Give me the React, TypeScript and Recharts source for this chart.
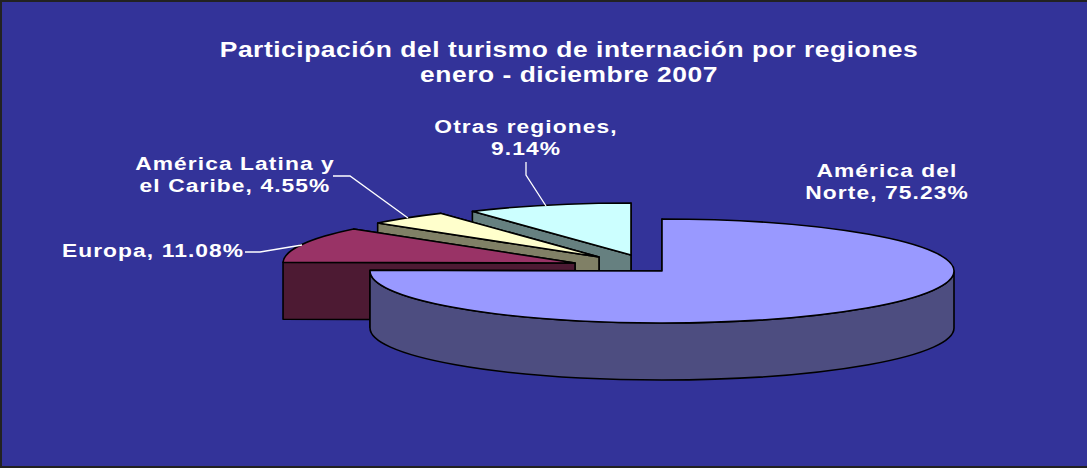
import { PieChart, Pie } from "recharts";

// drawn back to front, so América del Norte comes last and sits on top
const regions = ["Otras regiones", "América Latina y el Caribe", "Europa", "América del Norte"];
const shares = [9.14, 4.55, 11.08, 75.23];
const labelRows = [
  ["Otras regiones,", "9.14%"],
  ["América Latina y", "el Caribe, 4.55%"],
  ["Europa, 11.08%"],
  ["América del", "Norte, 75.23%"],
];
const titleRows = ["Participación del turismo de internación por regiones", "enero - diciembre 2007"];

const topColors = ["#CCFFFF", "#FFFFCC", "#993366", "#9999FF"];
const sideColors = ["#668080", "#808066", "#4D1A33", "#4D4D80"];

const data = regions.map((name, i) => ({ name, value: shares[i], fill: topColors[i] }));

const WIDTH = 1087;
const HEIGHT = 468;
const RX = 292;
const RY = 52;
const DEPTH = 57;
const FONT = "'Liberation Sans', Arial, sans-serif";

// how far each slice is pulled out of the pie
const explode = [
  [-31, -16],
  [-63, -14],
  [-87, -8],
  [0, 0],
];
const labelPos = [
  [526, 133],
  [235, 170],
  [153, 257],
  [887, 177],
];
const leaders = [
  "526,162 526,175 546,206",
  "333,176 350,176 408,218",
  "245,252 260,252 302,245",
  "",
];

const SliceShape = (props: any) => {
  const { cx, cy, startAngle, endAngle, index } = props;
  const ox = cx + explode[index][0];
  const oy = cy + explode[index][1];
  const pt = (deg: number, drop = 0) => {
    const a = (deg * Math.PI) / 180;
    return [ox + RX * Math.cos(a), oy - RY * Math.sin(a) + drop];
  };
  const lo = Math.min(startAngle, endAngle);
  const hi = Math.max(startAngle, endAngle);
  const arc = (from: number, to: number, drop = 0) => {
    const [x, y] = pt(to, drop);
    const large = Math.abs(to - from) > 180 ? 1 : 0;
    return `A${RX} ${RY} 0 ${large} ${to > from ? 0 : 1} ${x} ${y}`;
  };
  const face = (deg: number) => {
    const [x, y] = pt(deg);
    return `M${ox} ${oy}L${x} ${y}L${x} ${y + DEPTH}L${ox} ${oy + DEPTH}Z`;
  };
  // the outer wall only shows on the front half of the ellipse
  const wallFrom = Math.max(lo, 180);
  const wallTo = Math.min(hi, 360);
  const [sx, sy] = pt(lo);
  const [wx, wy] = pt(wallFrom);
  const [bx, by] = pt(wallTo, DEPTH);
  const line = { stroke: "#000", strokeWidth: 1.6, strokeLinejoin: "round" as const };
  return (
    <g>
      <path d={face(lo)} fill={sideColors[index]} {...line} />
      <path d={face(hi)} fill={sideColors[index]} {...line} />
      {wallTo > wallFrom && (
        <path
          d={`M${wx} ${wy}${arc(wallFrom, wallTo)}L${bx} ${by}${arc(wallTo, wallFrom, DEPTH)}Z`}
          fill={sideColors[index]}
          {...line}
        />
      )}
      <path d={`M${ox} ${oy}L${sx} ${sy}${arc(lo, hi)}Z`} fill={topColors[index]} {...line} />
    </g>
  );
};

// the original text is stretched sideways, hence the scale
const renderLabel = ({ index }: any) => (
  <text
    transform={`translate(${labelPos[index][0]} 0) scale(1.2 1)`}
    textAnchor="middle"
    fill="#fff"
    fontFamily={FONT}
    fontWeight="bold"
    fontSize={19}
    letterSpacing={0.9}
  >
    {labelRows[index].map((row, i) => (
      <tspan key={i} x={0} y={labelPos[index][1] + i * 22}>
        {row}
      </tspan>
    ))}
  </text>
);

const renderLeader = ({ index }: any) => <polyline points={leaders[index]} fill="none" stroke="#fff" strokeWidth={1.3} />;

export default function App() {
  return (
    <div
      style={{
        position: "absolute",
        left: 0,
        top: 0,
        width: WIDTH,
        height: HEIGHT,
        background: "#333399",
        boxShadow: "inset 2px 2px 0 #222, inset 0 -2px 0 #222",
      }}
    >
      <PieChart width={WIDTH} height={HEIGHT} margin={{ top: 0, right: 0, bottom: 0, left: 0 }}>
        <Pie
          data={data}
          dataKey="value"
          nameKey="name"
          cx={662}
          cy={271}
          outerRadius={RX}
          startAngle={90}
          endAngle={450}
          stroke="none"
          shape={SliceShape}
          label={renderLabel}
          labelLine={renderLeader}
          isAnimationActive={false}
        />
        <text
          transform="translate(569 0) scale(1.2 1)"
          textAnchor="middle"
          fill="#fff"
          fontFamily={FONT}
          fontWeight="bold"
          fontSize={22}
          letterSpacing={0.45}
        >
          {titleRows.map((row, i) => (
            <tspan key={i} x={0} y={57 + i * 25}>
              {row}
            </tspan>
          ))}
        </text>
      </PieChart>
    </div>
  );
}
